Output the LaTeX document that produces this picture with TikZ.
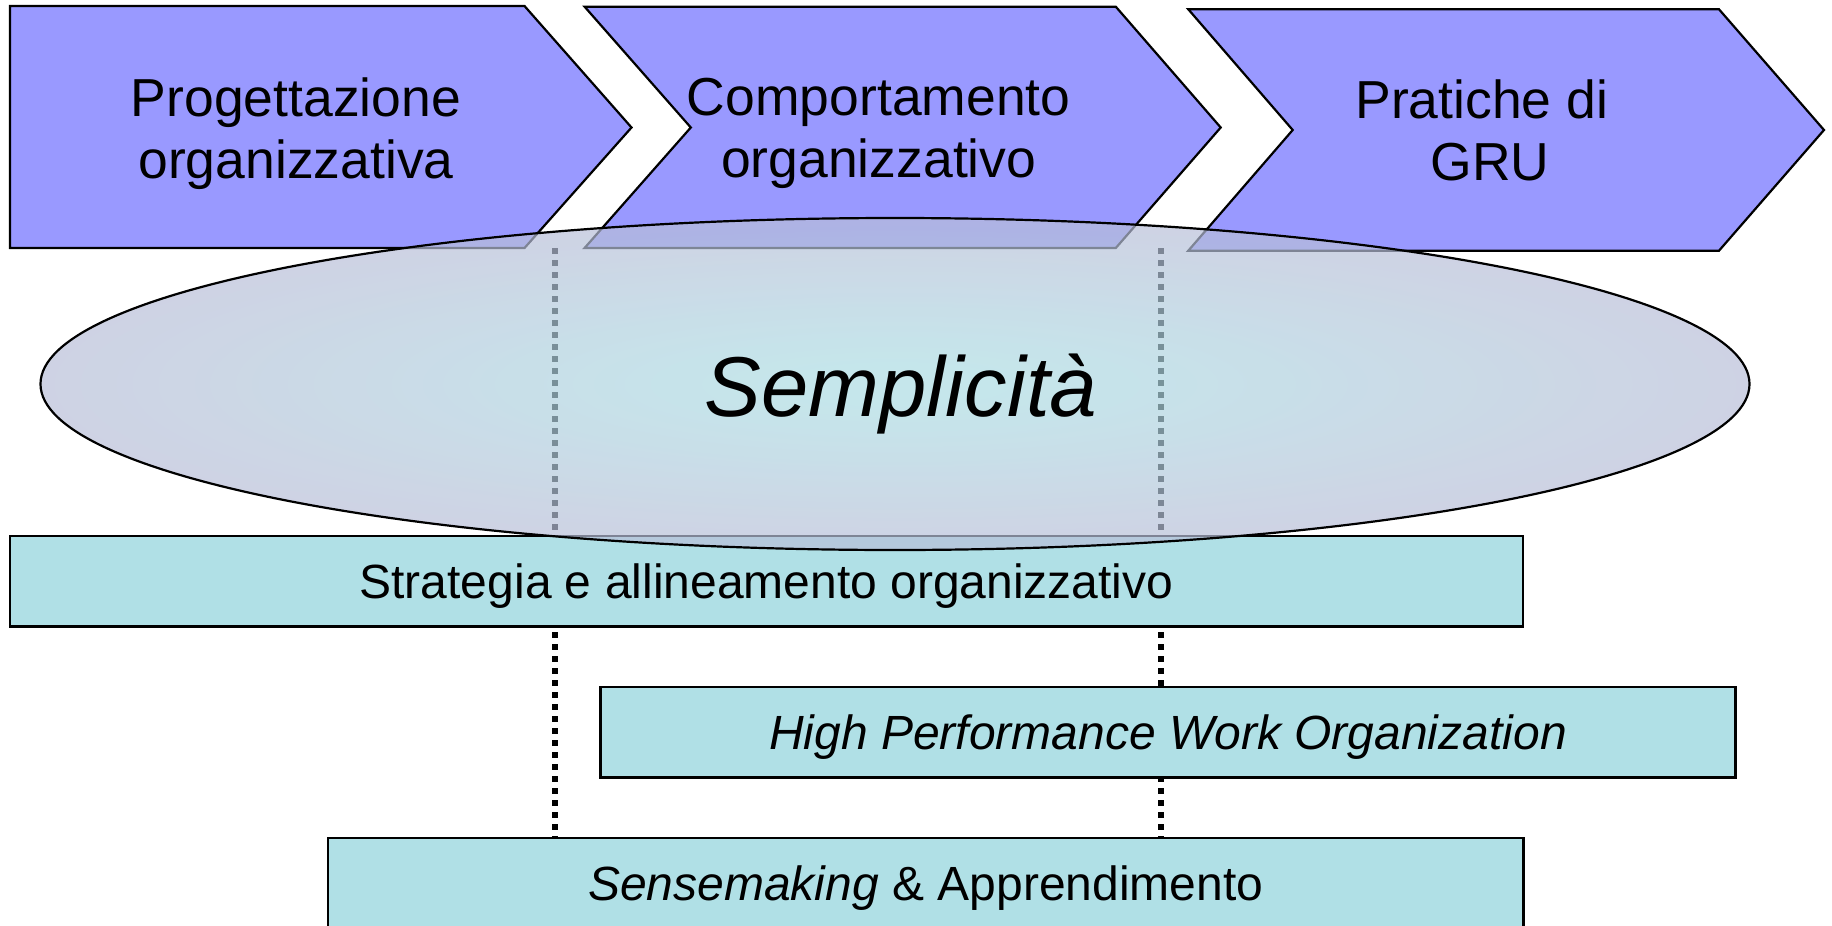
\documentclass[tikz,border=0pt]{standalone}
\usepackage{fontspec}
\setmainfont{Liberation Sans}
\usetikzlibrary{shapes.geometric}
\definecolor{arrowfill}{RGB}{153,153,255}
\definecolor{boxfill}{RGB}{176,224,230}
\definecolor{ellin}{RGB}{171,219,226}
\definecolor{ellout}{RGB}{186,186,214}
\pgfdeclareradialshading{ellshade}{\pgfpoint{0bp}{0bp}}{color(0bp)=(ellin); color(3bp)=(ellin); color(28bp)=(ellout); color(50bp)=(ellout)}
\begin{document}
\begin{tikzpicture}[x=1pt,y=-1pt,
  chev/.style={draw=black, line width=2.2pt, fill=arrowfill, line join=miter},
  boxnode/.style={draw=black, line width=2.5pt, fill=boxfill, rectangle, inner sep=0pt,
    minimum height=90.5pt, text height=36pt, text depth=2pt,
    font=\fontsize{48}{55}\selectfont},
  toplabel/.style={anchor=base, inner sep=0pt, font=\fontsize{53.5}{60}\selectfont},
  dotline/.style={line width=6pt, dash pattern=on 6pt off 6pt, line cap=butt}]
\useasboundingbox (0,0) rectangle (1832,926);
\clip (0,0) rectangle (1832,926);

% dotted guide lines (under everything)
\coordinate (d1t) at (555,248);
\coordinate (d1b) at (555,838);
\coordinate (d2t) at (1160.5,248);
\coordinate (d2b) at (1160.5,838);
\draw[dotline] (d1t) -- (d1b);
\draw[dotline] (d2t) -- (d2b);

% chevron arrows
\path[chev] (10,6) -- (524.5,6) -- (631.5,127.5) -- (524.5,248) -- (10,248) -- cycle;
\path[chev] (584.6,6.7) -- (1115.8,6.7) -- (1220.7,127.5) -- (1115.8,248) -- (584.6,248) -- (690.8,127.5) -- cycle;
\path[chev] (1188.3,9.3) -- (1719,9.3) -- (1824,130) -- (1719,250.7) -- (1188.3,250.7) -- (1292.7,130) -- cycle;

\node[toplabel] (p1a) at (296,116) {Progettazione};
\node[toplabel] (p1b) at (296,178) {organizzativa};
\node[toplabel] (p2a) at (878.7,115.5) {Comportamento};
\node[toplabel] (p2b) at (878.7,177.5) {organizzativo};
\node[toplabel] (p3a) at (1481.7,118.8) {Pratiche di};
\node[toplabel] (p3b) at (1490,180.8) {GRU};

% boxes
\node[boxnode, minimum width=1513pt] (strat) at (766.5,581.25) {Strategia e allineamento organizzativo};
\node[boxnode, minimum width=1135pt] (hpwo) at (1168,732.25) {\itshape High Performance Work Organization};
\node[boxnode, minimum width=1195.5pt] (sense) at (925.75,883.25) {\textit{Sensemaking} \& Apprendimento};

% ellipse
\node[ellipse, draw=black, line width=2.2pt, shading=ellshade, fill opacity=0.69, draw opacity=1,
  minimum width=1709pt, minimum height=332pt, inner sep=0pt] (ell) at (895,384) {};
\node[anchor=base, inner sep=0pt, font=\fontsize{85}{100}\selectfont\itshape] (simp) at (901,416.7) {Semplicità};
\end{tikzpicture}
\end{document}
